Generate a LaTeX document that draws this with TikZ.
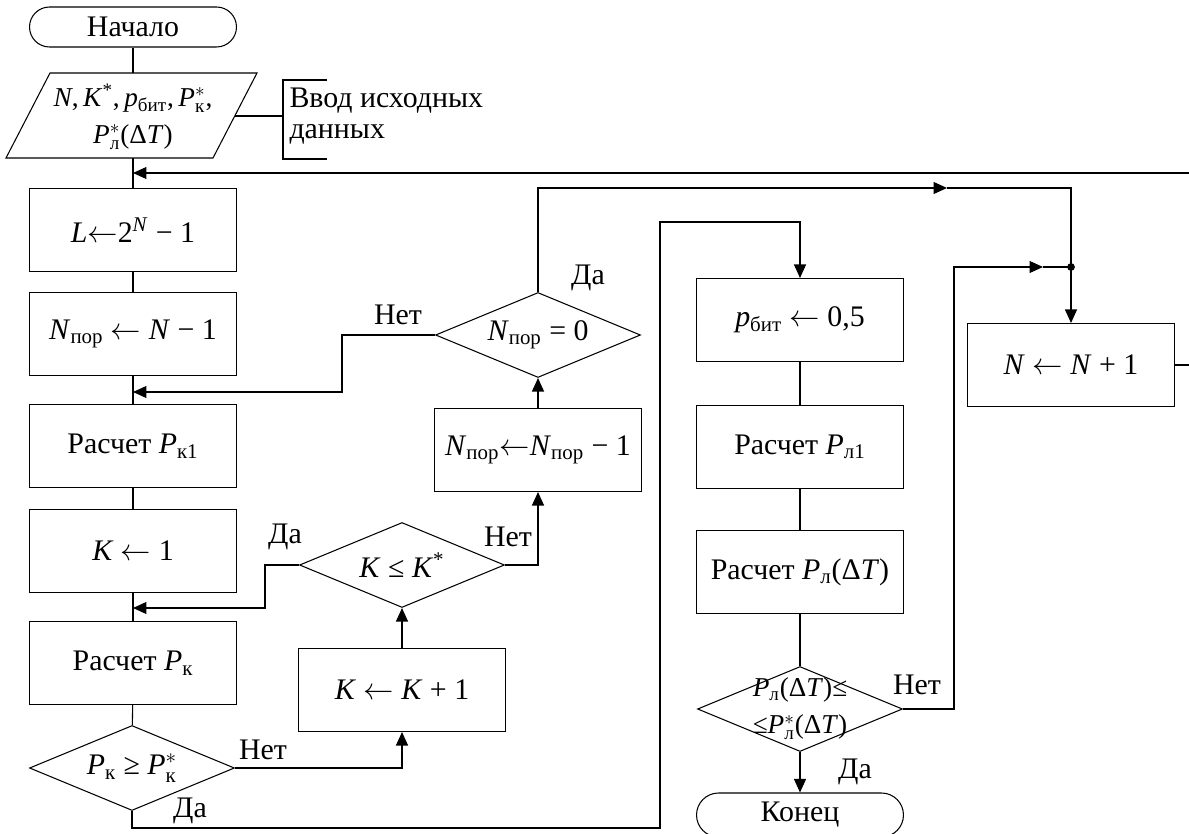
\documentclass[tikz,border=0pt]{standalone}
\usepackage{fontspec}
\usepackage{amsmath}
\setmainfont{Liberation Serif}
\usetikzlibrary{shapes.geometric,arrows.meta}
\newcommand{\idx}[2]{\textit{#1}\textsubscript{#2}}
\newcommand{\idxs}[2]{\textit{#1}$^{*}_{\text{#2}}$}
\newcommand{\asg}{$\leftarrow$}
\tikzset{
  block/.style={draw, minimum width=4.14cm, minimum height=1.66cm, inner sep=2pt},
  decision/.style={draw, diamond, aspect=2.4, minimum width=4.1cm, minimum height=1.7cm, inner sep=0pt},
  terminal/.style={draw, rounded corners=0.4cm, minimum width=4.14cm, minimum height=0.8cm},
  arr/.style={-{Triangle[length=0.27cm,width=0.24cm]}}
}
\begin{document}
\begin{tikzpicture}[x=0.02cm, y=-0.02cm, line width=0.6pt, font=\fontsize{17}{18}\selectfont]
  \useasboundingbox (0,0) rectangle (1189,834);
  \node[terminal] (start) at (133,27) {Начало};
  \node[align=center, inner sep=0pt, font=\fontsize{15.5}{21}\selectfont] (inp) at (133,117)
    {\textit{N},\,\textit{K}\textsuperscript{*},\,\idx{p}{бит},\,\idxs{P}{к},\\ \idxs{P}{л}(Δ\textit{T})};
  \draw (50,73) -- (257,73) -- (213,158) -- (6,158) -- cycle;
  \coordinate (inptop) at (133,73);
  \coordinate (inpbot) at (133,158);
  \coordinate (inpright) at (235,116);
  \node[anchor=west, align=left, inner sep=0pt] (cmt) at (289,116) {Ввод исходных\\данных};
  \coordinate (brk) at (283,116);
  \draw (inpright) -- (brk);
  \draw (327,80) -- (283,80) -- (283,159) -- (327,159);

  \node[block] (lset) at (133,230) {\textit{L}\asg 2\textsuperscript{\textit{N}} − 1};
  \node[block] (npor) at (133,334) {\idx{N}{пор} \asg\ \textit{N} − 1};
  \node[block] (pk1) at (133,446) {Расчет \idx{P}{к1}};
  \node[block] (kone) at (133,551) {\textit{K} \asg\ 1};
  \node[block] (pk) at (133,663) {Расчет \idx{P}{к}};
  \node[decision] (pkchk) at (132,768) {\idx{P}{к} ≥ \idxs{P}{к}};
  \node[block] (kinc) at (402,690) {\textit{K} \asg\ \textit{K} + 1};
  \node[decision] (kchk) at (402,565) {\textit{K} ≤ \textit{K}\textsuperscript{*}};
  \node[block] (ndec) at (538,450) {\idx{N}{пор}\asg\idx{N}{пор} − 1};
  \node[decision] (nchk) at (538,335) {\idx{N}{пор} = 0};
  \node[block] (pbit) at (800,320) {\idx{p}{бит} \asg\ 0,5};
  \node[block] (pl1) at (800,447) {Расчет \idx{P}{л1}};
  \node[block] (plt) at (800,572) {Расчет \idx{P}{л}(Δ\textit{T})};
  \node[decision] (plchk) at (800,709) {};
  \node[align=center, inner sep=0pt, font=\fontsize{15.5}{21}\selectfont] (plchktxt) at (plchk)
    {\idx{P}{л}(Δ\textit{T})≤\\≤\idxs{P}{л}(Δ\textit{T})};
  \node[terminal, minimum height=0.88cm, rounded corners=0.44cm] (stop) at (800,815) {Конец};
  \node[block] (ninc) at (1071,365) {\textit{N} \asg\ \textit{N} + 1};

  \coordinate (rt) at (1189,173);
  \coordinate (rt2) at (1189,365);
  \coordinate (j0) at (133,173);
  \coordinate (j1) at (133,392);
  \coordinate (j2) at (133,608);
  \coordinate (bl) at (132,828);
  \coordinate (br) at (660,828);
  \coordinate (tr) at (660,222);
  \coordinate (ntop) at (538,188);
  \coordinate (nmid) at (947,188);
  \coordinate (dot) at (1071,267);
  \coordinate (pcol) at (954,267);
  \coordinate (pmid) at (1043,267);

  \draw (start.south) -- (inptop);
  \draw (inpbot) -- (lset.north);
  \draw[arr] (rt) -- (j0);
  \draw (ninc.east) -- (rt2);
  \draw (lset) -- (npor);
  \draw (npor) -- (pk1);
  \draw (pk1) -- (kone);
  \draw (kone) -- (pk);
  \draw (pk) -- (pkchk);
  \draw[arr] (pkchk.east) -| (kinc.south);
  \draw[arr] (kinc.north) -- (kchk.south);
  \draw[arr] (kchk.west) -- ++(-34,0) |- (j2);
  \draw[arr] (kchk.east) -| (ndec.south);
  \draw[arr] (ndec.north) -- (nchk.south);
  \draw[arr] (nchk.west) -- ++(-93,0) |- (j1);
  \draw[arr] (nchk.north) -- (ntop) -- (nmid);
  \draw (nmid) -| (dot);
  \draw[arr] (dot) -- (ninc.north);
  \fill (dot) circle (2.2pt);
  \draw[arr] (pkchk.south) -- (bl) -- (br) -- (tr) -| (pbit.north);
  \draw (pbit) -- (pl1);
  \draw (pl1) -- (plt);
  \draw (plt) -- (plchk);
  \draw[arr] (plchk.south) -- (stop.north);
  \draw[arr] (plchk.east) -| (pcol) -- (pmid);
  \draw (pmid) -- (dot);

  \node (nchkno) at (398,315) {Нет};
  \node (nchkyes) at (588,278) {Да};
  \node (kchkyes) at (285,537) {Да};
  \node (kchkno) at (508,537) {Нет};
  \node (pkchkno) at (263,750) {Нет};
  \node (pkchkyes) at (190,811) {Да};
  \node (plchkno) at (917,685) {Нет};
  \node (plchkyes) at (855,772) {Да};
\end{tikzpicture}
\end{document}
